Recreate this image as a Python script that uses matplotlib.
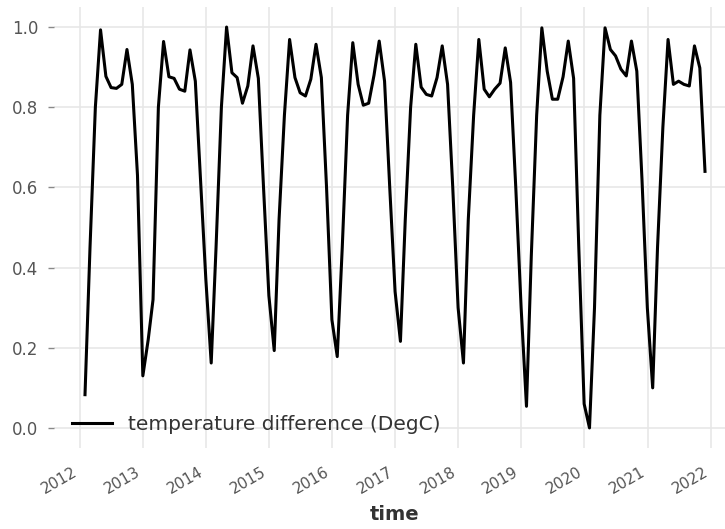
import numpy as np
import pandas as pd
import matplotlib
matplotlib.use("Agg")
import matplotlib.pyplot as plt
import matplotlib.dates as mdates

# monthly values, Jan 2012 .. Nov 2021
y2012 = [0.083, 0.45, 0.80, 0.993, 0.877, 0.849, 0.847, 0.857, 0.944, 0.857, 0.63, 0.13]
y2013 = [0.22, 0.32, 0.80, 0.964, 0.876, 0.872, 0.845, 0.840, 0.943, 0.865, 0.62, 0.37]
y2014 = [0.162, 0.45, 0.80, 1.0, 0.886, 0.874, 0.81, 0.853, 0.953, 0.872, 0.60, 0.33]
y2015 = [0.193, 0.52, 0.78, 0.969, 0.874, 0.836, 0.828, 0.87, 0.957, 0.874, 0.60, 0.27]
y2016 = [0.178, 0.45, 0.78, 0.961, 0.857, 0.805, 0.81, 0.88, 0.965, 0.865, 0.60, 0.34]
y2017 = [0.216, 0.52, 0.80, 0.957, 0.85, 0.832, 0.828, 0.874, 0.953, 0.857, 0.60, 0.30]
y2018 = [0.162, 0.52, 0.78, 0.969, 0.845, 0.826, 0.845, 0.86, 0.948, 0.862, 0.60, 0.30]
y2019 = [0.054, 0.43, 0.78, 0.998, 0.89, 0.82, 0.82, 0.876, 0.965, 0.872, 0.45, 0.06]
y2020 = [0.0, 0.30, 0.78, 0.998, 0.944, 0.928, 0.895, 0.878, 0.965, 0.89, 0.62, 0.30]
y2021 = [0.10, 0.45, 0.75, 0.969, 0.857, 0.865, 0.857, 0.853, 0.953, 0.898, 0.64]

values = y2012 + y2013 + y2014 + y2015 + y2016 + y2017 + y2018 + y2019 + y2020 + y2021
# month-end timestamps
dates = pd.date_range("2012-02-01", periods=len(values), freq="MS") - pd.Timedelta(days=1)
series = pd.Series(values, index=dates)

label = "temperature difference (DegC)"

fig = plt.figure(figsize=(7.25, 5.29), dpi=100)
ax = fig.add_axes([54 / 725, 1 - 448 / 529, (736 - 54) / 725, (448 - 7) / 529])

ax.plot(series.index, series.values, color="black", lw=2.2, label=label)

ax.grid(True, color="#e6e6e6", lw=1.1)
ax.set_axisbelow(True)
for s in ax.spines.values():
    s.set_visible(False)

ax.xaxis.set_major_locator(mdates.YearLocator())
ax.xaxis.set_major_formatter(mdates.DateFormatter("%Y"))
ax.set_yticks([0.0, 0.2, 0.4, 0.6, 0.8, 1.0])
ax.tick_params(axis="x", length=0, labelsize=11, labelcolor="#555555", pad=12)
ax.tick_params(axis="y", length=4.5, width=1, color="#888888", labelsize=12,
               labelcolor="#555555", pad=7)
for t in ax.get_xticklabels():
    t.set_rotation(30)
    t.set_ha("right")

ax.set_xlabel("time", fontsize=14, fontweight="bold", color="#333333", labelpad=6)

leg = ax.legend(loc="lower left", frameon=False, fontsize=14.5, handlelength=2.0,
                borderaxespad=0.3, bbox_to_anchor=(0.005, 0.0))
for t in leg.get_texts():
    t.set_color("#333333")

fig.savefig("out.png", dpi=100)
